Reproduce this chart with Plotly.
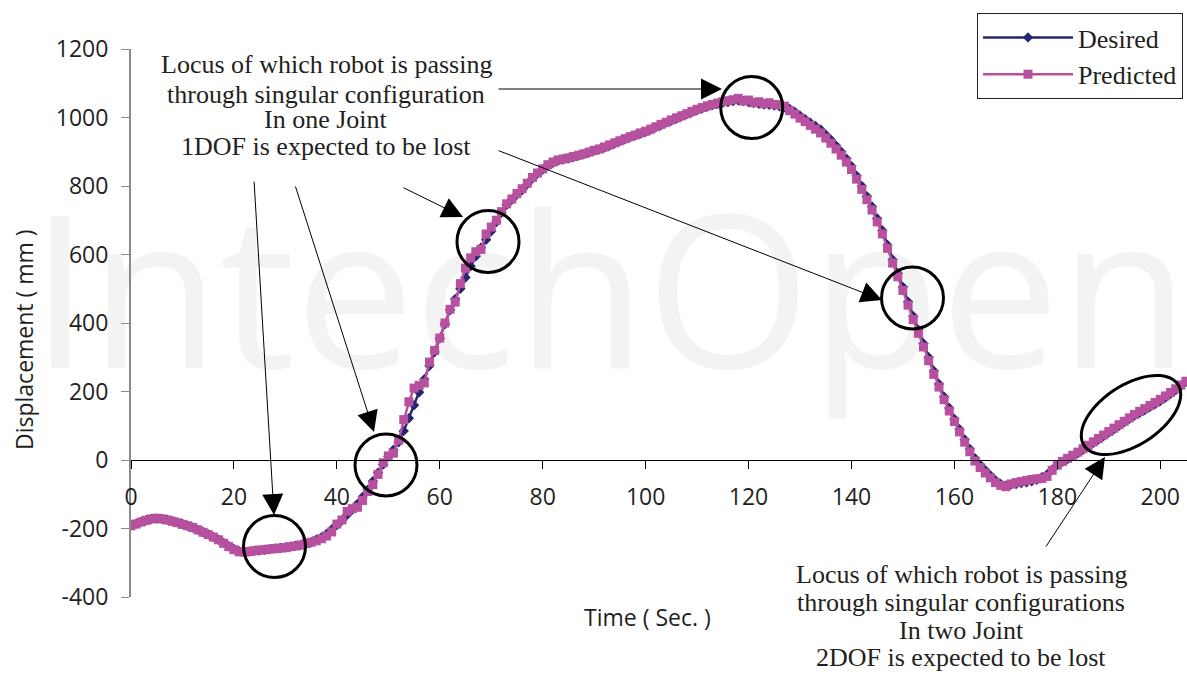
import math
import plotly.graph_objects as go

# ---------------- data ----------------
time_s = list(range(0, 206))

desired = [
    -190, -186, -180, -175, -172, -171, -172, -174, -178, -182,
    -187, -192, -197, -204, -210, -217, -225, -233, -242, -252,
    -260, -266, -268, -267, -265, -264, -262, -260, -258, -257,
    -255, -253, -250, -248, -245, -240, -233, -226, -216, -203,
    -190, -176, -160, -145, -128, -108, -87, -62, -37, -13,
    10, 30, 52, 85, 122, 160, 198, 236, 275, 315,
    355, 397, 438, 470, 500, 533, 566, 595, 620, 643,
    668, 695, 722, 745, 760, 775, 788, 805, 822, 836,
    848, 860, 868, 874, 878, 881, 885, 889, 893, 898,
    903, 907, 912, 918, 925, 931, 937, 943, 948, 953,
    958, 965, 972, 978, 985, 991, 997, 1004, 1010, 1016,
    1022, 1027, 1032, 1036, 1040, 1043, 1045, 1048, 1050, 1048,
    1045, 1042, 1040, 1038, 1037, 1035, 1033, 1030, 1025, 1016,
    1005, 995, 985, 975, 965, 950, 935, 918, 900, 880,
    858, 830, 800, 770, 740, 705, 670, 628, 585, 545,
    505, 462, 420, 380, 340, 300, 260, 222, 185, 152,
    120, 90, 60, 32, 5, -14, -30, -45, -60, -70,
    -75, -72, -70, -67, -65, -62, -58, -50, -42, -28,
    -15, -5, 3, 12, 20, 30, 40, 50, 60, 70,
    80, 90, 100, 110, 120, 130, 138, 146, 155, 163,
    172, 182, 193, 204, 216, 228,
]

predicted = [
    -192, -187, -181, -176, -172, -170, -172, -175, -179, -183,
    -188, -192, -197, -204, -211, -218, -225, -233, -243, -253,
    -262, -268, -269, -267, -265, -263, -262, -260, -259, -257,
    -256, -253, -251, -248, -244, -240, -236, -230, -222, -210,
    -187, -175, -150, -142, -138, -118, -92, -72, -42, -8,
    12, 20, 58, 118, 170, 210, 218, 225, 286, 320,
    356, 400, 440, 461, 515, 560, 590, 608, 615, 660,
    680, 700, 725, 748, 762, 778, 792, 808, 825, 838,
    850, 862, 870, 876, 879, 882, 886, 890, 894, 899,
    904, 908, 914, 920, 926, 932, 938, 944, 949, 955,
    960, 966, 973, 980, 986, 993, 999, 1005, 1011, 1018,
    1024, 1029, 1034, 1038, 1042, 1046, 1049, 1052, 1056, 1048,
    1051, 1043, 1046, 1040, 1043, 1038, 1037, 1033, 1020, 1010,
    998, 988, 977, 966, 955, 940, 925, 908, 890, 870,
    848, 820, 790, 760, 730, 695, 660, 618, 575, 535,
    495, 452, 410, 370, 330, 290, 250, 213, 176, 143,
    112, 82, 52, 24, -3, -22, -38, -52, -66, -74,
    -78, -70, -66, -63, -60, -57, -55, -54, -48, -30,
    -15, -4, 5, 14, 23, 33, 43, 53, 63, 73,
    83, 93, 103, 113, 123, 133, 142, 150, 159, 168,
    177, 187, 197, 208, 219, 230,
]

x_ticks = [0, 20, 40, 60, 80, 100, 120, 140, 160, 180, 200]
y_ticks = [-400, -200, 0, 200, 400, 600, 800, 1000, 1200]

# ---------------- layout geometry ----------------
W, H = 1187, 674
ML, MR, MT, MB = 131, 0, 49, 77
PW, PH = W - ML - MR, H - MT - MB
X_RANGE = [0, 205.2]
Y_RANGE = [-400, 1200]


def px_x(px):
    return (px - ML) / PW


def px_y(py):
    return (H - MB - py) / PH


def d_x(px):
    return X_RANGE[0] + (px - ML) / PW * (X_RANGE[1] - X_RANGE[0])


def d_y(py):
    return Y_RANGE[0] + (H - MB - py) / PH * (Y_RANGE[1] - Y_RANGE[0])


NAVY = "#26266e"
PINK = "#b7509f"
TXT = "#231f20"
SERIF = "Liberation Serif, Times New Roman, serif"
SANS = "Open Sans, Noto Sans, sans-serif"

fig = go.Figure()

fig.add_trace(go.Scatter(
    x=time_s, y=desired, name="Desired", mode="lines+markers",
    line=dict(color=NAVY, width=2.5),
    marker=dict(symbol="diamond", size=8, color=NAVY),
))
fig.add_trace(go.Scatter(
    x=time_s, y=predicted, name="Predicted", mode="lines+markers",
    line=dict(color=PINK, width=2.5),
    marker=dict(symbol="square", size=9, color=PINK),
))

shapes = []

# watermark
wm_font = dict(family=SANS, size=212, color="#f3f3f3")
shapes.append(dict(
    type="rect", xref="paper", yref="paper",
    x0=px_x(20), x1=px_x(1200), y0=px_y(410), y1=px_y(190),
    line=dict(width=0), fillcolor="rgba(0,0,0,0)", layer="below",
    label=dict(text="IntechOpen", font=wm_font, textposition="middle center"),
))

# circles
circles = [(274.5, 546.5), (386, 465), (488, 241.5), (751.7, 107.5), (912.5, 298)]
for cx, cy in circles:
    shapes.append(dict(
        type="circle", xref="x", yref="y", xsizemode="pixel", ysizemode="pixel",
        xanchor=d_x(cx), yanchor=d_y(cy), x0=-31, x1=31, y0=-31, y1=31,
        line=dict(color="black", width=3),
    ))

# tilted ellipse
ecx, ecy = 1131, 415
a_, b_, th = 56, 30, math.radians(33)
pts = []
for k in range(73):
    ph = 2 * math.pi * k / 72
    ex = a_ * math.cos(th) * math.cos(ph) - b_ * math.sin(th) * math.sin(ph)
    ey = a_ * math.sin(th) * math.cos(ph) + b_ * math.cos(th) * math.sin(ph)
    pts.append(f"{ex:.2f},{ey:.2f}")
path = "M" + " L".join(pts) + " Z"
shapes.append(dict(
    type="path", xref="x", yref="y", xsizemode="pixel", ysizemode="pixel",
    xanchor=d_x(ecx), yanchor=d_y(ecy), path=path,
    line=dict(color="black", width=3),
))

annotations = []

# arrows: (tail px, head px)
arrows = [
    ((254, 180), (274, 515)),
    ((295, 185), (374, 432)),
    ((402, 187), (463, 217)),
    ((497, 89), (722, 89)),
    ((497, 150), (882, 300)),
    ((1045, 548), (1105, 457)),
]
for (tx, ty), (hx, hy) in arrows:
    annotations.append(dict(
        x=d_x(hx), y=d_y(hy), ax=d_x(tx), ay=d_y(ty), xref="x", yref="y",
        axref="x", ayref="y", text="", showarrow=True, arrowhead=2,
        arrowsize=4.2, arrowwidth=1, arrowcolor="black", standoff=0,
    ))

top_lines = [
    ("Locus of which robot is passing", 65),
    ("through singular configuration", 94),
    ("In one Joint", 120),
    ("1DOF is expected to be lost", 147),
]
for txt, yy in top_lines:
    annotations.append(dict(
        x=px_x(326), y=px_y(yy), xref="paper", yref="paper", text=txt,
        showarrow=False, xanchor="center", yanchor="middle",
        font=dict(family=SERIF, size=26, color=TXT),
    ))

bot_lines = [
    ("Locus of which robot is passing", 574),
    ("through singular configurations", 602),
    ("In two Joint", 630),
    ("2DOF is expected to be lost", 657),
]
for txt, yy in bot_lines:
    annotations.append(dict(
        x=px_x(961), y=px_y(yy), xref="paper", yref="paper", text=txt,
        showarrow=False, xanchor="center", yanchor="middle",
        font=dict(family=SERIF, size=26, color=TXT),
    ))

# axis titles
annotations.append(dict(
    x=px_x(647), y=px_y(617), xref="paper", yref="paper", text="Time ( Sec. )",
    showarrow=False, xanchor="center", yanchor="middle",
    font=dict(family=SANS, size=23, color=TXT),
))
annotations.append(dict(
    x=px_x(24), y=px_y(340), xref="paper", yref="paper", text="Displacement ( mm )",
    showarrow=False, xanchor="center", yanchor="middle", textangle=-90,
    font=dict(family=SANS, size=23, color=TXT),
))

fig.update_layout(
    width=W, height=H,
    margin=dict(l=ML, r=MR, t=MT, b=MB),
    paper_bgcolor="white", plot_bgcolor="rgba(0,0,0,0)",
    showlegend=True,
    legend=dict(
        x=px_x(1183), y=px_y(13), xanchor="right", yanchor="top",
        bgcolor="white", bordercolor="#222", borderwidth=1,
        font=dict(family=SERIF, size=26, color=TXT),
        tracegroupgap=0, itemwidth=90,
    ),
    xaxis=dict(
        range=X_RANGE, anchor="free", position=0.25,
        tickvals=x_ticks, ticktext=[str(v) for v in x_ticks],
        showline=True, linecolor="black", linewidth=1,
        ticks="outside", ticklen=8, tickcolor="black", tickwidth=1,
        ticklabelstandoff=8,
        tickfont=dict(family=SANS, size=23, color=TXT),
        showgrid=False, zeroline=False,
    ),
    yaxis=dict(
        range=Y_RANGE, tickvals=y_ticks, ticktext=[str(v) for v in y_ticks],
        showline=True, linecolor="#8a8a8a", linewidth=2,
        ticks="outside", ticklen=8, tickcolor="#8a8a8a", tickwidth=1,
        ticklabelstandoff=8,
        tickfont=dict(family=SANS, size=23, color=TXT),
        showgrid=False, zeroline=False,
    ),
    shapes=shapes,
    annotations=annotations,
)

fig.write_html(
    "out.html",
    config={"displayModeBar": False},
    post_script="document.body.style.margin='0';document.body.style.padding='0';",
)
